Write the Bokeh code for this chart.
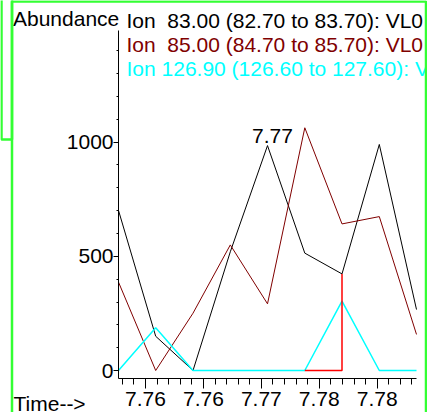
from bokeh.plotting import figure
from bokeh.models import Label, BoxAnnotation, FixedTicker, Range1d
from bokeh.embed import file_html
from bokeh.resources import INLINE

# ---- data ----
times = [7.75767, 7.76088, 7.76410, 7.76732, 7.77053, 7.77375, 7.77696, 7.78018, 7.78339]
ion83 = [701, 150, 0, 520, 985, 514, 423, 990, 267]
ion85 = [387, 0, 251, 550, 292, 1063, 642, 674, 158]
ion127 = [0, 187, 0, 0, 0, 0, 304, 0, 0]
x_ticks = [7.760, 7.765, 7.770, 7.775, 7.780]
x_tick_labels = ["7.76", "7.76", "7.77", "7.78", "7.78"]
y_ticks = [0, 500, 1000]
y_tick_labels = ["0", "500", "1000"]
series_labels = [
    "Ion \u00a083.00 (82.70 to 83.70): VL0",
    "Ion \u00a085.00 (84.70 to 85.70): VL0",
    "Ion 126.90 (126.60 to 127.60): VL0",
]
series_colors = ["black", "#800000", "#00ffff"]

# ---- layout (pixel geometry of the plotting area) ----
W, H = 427, 412
AX_L, AX_R, AX_T, AX_B = 118, 416, 30, 378   # axis box in canvas pixels
Y0, Y1 = -35, 1489                           # value range of the axis box
FONT = "Liberation Sans"
FS = "21px"
GREEN = "#33ff33"

xpp = (times[-1] - times[0]) / (AX_R - AX_L)   # data per pixel
ypp = (Y1 - Y0) / (AX_B - AX_T)
x_start = times[0] - AX_L * xpp
x_end = times[-1] + (W - AX_R) * xpp
y_start = Y0 - (H - AX_B) * ypp
y_end = Y1 + AX_T * ypp


def px2x(px):
    return x_start + px * xpp


def px2y(py):
    return y_start + (H - py) * ypp


p = figure(width=W, height=H,
           x_range=Range1d(x_start, x_end), y_range=Range1d(y_start, y_end),
           output_backend="svg", toolbar_location=None,
           min_border_left=0, min_border_right=0,
           min_border_top=0, min_border_bottom=0)
p.background_fill_color = "white"
p.border_fill_color = "white"
p.outline_line_color = None
p.xgrid.visible = False
p.ygrid.visible = False

# axes, pinned inside the full-canvas frame
xa = p.xaxis[0]
xa.fixed_location = Y0
xa.bounds = (times[0], times[-1])
xa.ticker = FixedTicker(ticks=x_ticks,
                        minor_ticks=[7.758 + 0.001 * i for i in range(26)])
xa.major_label_overrides = dict(zip(x_ticks, x_tick_labels))
ya = p.yaxis[0]
ya.fixed_location = times[0]
ya.bounds = (Y0, Y1)
ya.ticker = FixedTicker(ticks=y_ticks, minor_ticks=[100 * i for i in range(15)])
ya.major_label_overrides = dict(zip(y_ticks, y_tick_labels))
for ax in (xa, ya):
    ax.axis_line_color = "black"
    ax.major_tick_line_color = "black"
    ax.minor_tick_line_color = "black"
    ax.major_tick_in = 0
    ax.minor_tick_in = 0
    ax.major_label_text_font = FONT
    ax.major_label_text_font_size = FS
    ax.major_label_text_color = "black"
    ax.major_label_standoff = 0
xa.major_tick_out = 10
xa.minor_tick_out = 6
xa.major_label_standoff = 3
ya.major_tick_out = 5
ya.minor_tick_out = 2

# series
p.line(times, ion83, line_color=series_colors[0], line_width=1)
p.line(times, ion85, line_color=series_colors[1], line_width=1)
p.line(times, ion127, line_color=series_colors[2], line_width=1.5)
p.line([times[5], times[6], times[6]], [0, 0, ion83[6]], line_color="red", line_width=1.5)

# peak label
p.add_layout(Label(x=times[4], y=ion83[4], text=f"{times[4]:.2f}",
                   x_offset=5, y_offset=10, text_align="center",
                   text_baseline="alphabetic", text_font=FONT,
                   text_font_size=FS, text_color="black"))

BASE_SHIFT = 5  # Bokeh draws alphabetic-baseline labels a little low


def plabel(px, py, text, color="black"):
    return Label(x=px2x(px), y=px2y(py - BASE_SHIFT), text=text,
                 text_font=FONT, text_font_size=FS, text_color=color,
                 text_baseline="alphabetic")


# header texts
p.add_layout(plabel(12.5, 22.7, "Abundance"))
for i, (lab, col) in enumerate(zip(series_labels, series_colors)):
    p.add_layout(plabel(126, 25 + 23.8 * i, lab, col))
p.add_layout(plabel(13, 408.3, "Time-->"))

# green frames
p.add_layout(BoxAnnotation(left=px2x(11.5), right=px2x(425.5), top=px2y(1),
                           bottom=px2y(420), fill_alpha=0, line_color=GREEN,
                           line_alpha=1, line_width=2.5))
p.add_layout(BoxAnnotation(left=px2x(1), right=px2x(11.5), top=px2y(-10),
                           bottom=px2y(139), fill_alpha=0, line_color=GREEN,
                           line_alpha=1, line_width=2.5))

open("out.html", "w").write(file_html(p, INLINE))
